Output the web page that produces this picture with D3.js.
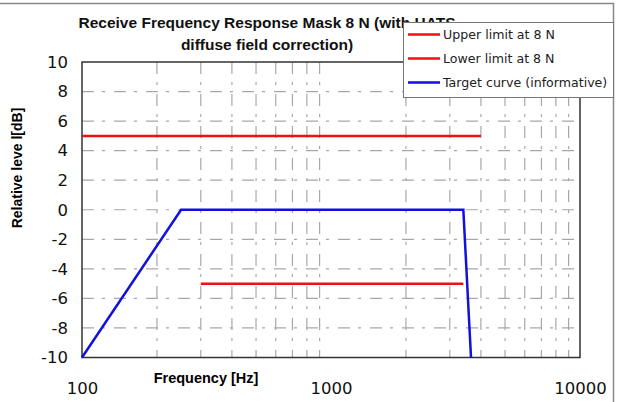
<!DOCTYPE html>
<html><head><meta charset="utf-8">
<script src="https://cdn.jsdelivr.net/npm/d3@7"></script>
<style>body{margin:0;background:#fff}svg{display:block}</style>
</head><body>
<script>
const xTicks = [100, 1000, 10000];
const yTicks = [-10, -8, -6, -4, -2, 0, 2, 4, 6, 8, 10];
const upperFreq = [100, 4000];
const upperVal = [5, 5];
const lowerFreq = [300, 3400];
const lowerVal = [-5, -5];
const targetFreq = [100, 250, 3400, 3650];
const targetVal = [-10, 0, 0, -10];
const legendLabels = ["Upper limit at 8 N", "Lower limit at 8 N", "Target curve (informative)"];
const legendColors = ["#ee1111", "#ee1111", "#1111dd"];

const W = 617, H = 402;
const svg = d3.select("body").append("svg").attr("width", W).attr("height", H);
const x = d3.scaleLog().domain([100, 10000]).range([82, 580]);
const y = d3.scaleLinear().domain([-10, 10]).range([357.5, 62]);

// outer frame
svg.append("path").attr("d", `M0,3.5H613.5V${H}`).attr("fill","none").attr("stroke","#888").attr("stroke-width",1.5);

// grid
const minor = [];
for (let d = 100; d < 10000; d *= 10) for (let k = 2; k <= 9; k++) minor.push(d * k);
const g = svg.append("g");
g.selectAll("line.v").data(minor).join("line")
  .attr("x1", d => x(d)).attr("x2", d => x(d)).attr("y1", y(10)).attr("y2", y(-10))
  .attr("stroke", "#a8a8a8").attr("stroke-width", 1.2).attr("stroke-dasharray", "12,8,3,9");
g.selectAll("line.h").data(yTicks.filter(v => v > -10 && v < 10)).join("line")
  .attr("x1", x(100)).attr("x2", x(10000)).attr("y1", d => y(d)).attr("y2", d => y(d))
  .attr("stroke", "#a8a8a8").attr("stroke-width", 1.2).attr("stroke-dasharray", "12,8,3,9");

// plot border
svg.append("rect").attr("x", x(100)).attr("y", y(10)).attr("width", x(10000) - x(100)).attr("height", y(-10) - y(10))
  .attr("fill", "none").attr("stroke", "#333").attr("stroke-width", 1.5);

// axes labels
const yAxis = d3.axisLeft(y).tickValues(yTicks).tickSize(0).tickPadding(14).tickFormat(d => String(d));
const ya = svg.append("g").attr("transform", `translate(${x(100)},0)`).call(yAxis);
ya.select(".domain").remove();
ya.selectAll("text").attr("font-family", "DejaVu Sans").attr("font-size", 16.5).attr("fill", "#111");
const xAxis = d3.axisBottom(x).tickValues(xTicks).tickSize(0).tickPadding(25).tickFormat(d => String(d));
const xa = svg.append("g").attr("transform", `translate(0,${y(-10)})`).call(xAxis);
xa.select(".domain").remove();
xa.selectAll("text").attr("font-family", "DejaVu Sans").attr("font-size", 16.5).attr("fill", "#111");

const line = d3.line().x(d => x(d[0])).y(d => y(d[1]));
function draw(f, v, c) {
  svg.append("path").datum(f.map((d, i) => [d, v[i]])).attr("d", line)
    .attr("fill", "none").attr("stroke", c).attr("stroke-width", 2.5);
}
draw(upperFreq, upperVal, legendColors[0]);
draw(lowerFreq, lowerVal, legendColors[1]);
draw(targetFreq, targetVal, legendColors[2]);

// axis titles
svg.append("text").attr("x", 206).attr("y", 383).attr("text-anchor", "middle")
  .attr("font-family", "Liberation Sans, Arial").attr("font-weight", "bold").attr("font-size", 14.5).text("Frequency [Hz]");
svg.append("text").attr("transform", "translate(22,168) rotate(-90)").attr("text-anchor", "middle")
  .attr("font-family", "Liberation Sans, Arial").attr("font-weight", "bold").attr("font-size", 14).text("Relative leve l[dB]");

// title
const t = svg.append("text").attr("text-anchor", "middle").attr("font-family", "Liberation Sans, Arial")
  .attr("font-weight", "bold").attr("font-size", 15.5).attr("fill", "#111");
t.append("tspan").attr("x", 267).attr("y", 28).text("Receive Frequency Response Mask 8 N (with HATS");
t.append("tspan").attr("x", 267).attr("y", 50).text("diffuse field correction)");

// legend
const lg = svg.append("g");
lg.append("rect").attr("x", 403.5).attr("y", 22.5).attr("width", 210).attr("height", 75)
  .attr("fill", "#fff").attr("stroke", "#777").attr("stroke-width", 1);
legendLabels.forEach((s, i) => {
  const yy = 34.5 + i * 24;
  lg.append("line").attr("x1", 408).attr("x2", 440).attr("y1", yy).attr("y2", yy)
    .attr("stroke", legendColors[i]).attr("stroke-width", 2.5);
  lg.append("text").attr("x", 443).attr("y", yy + 4.5).attr("font-family", "DejaVu Sans")
    .attr("font-size", 12.6).attr("fill", "#222").text(s);
});
</script>
</body></html>
